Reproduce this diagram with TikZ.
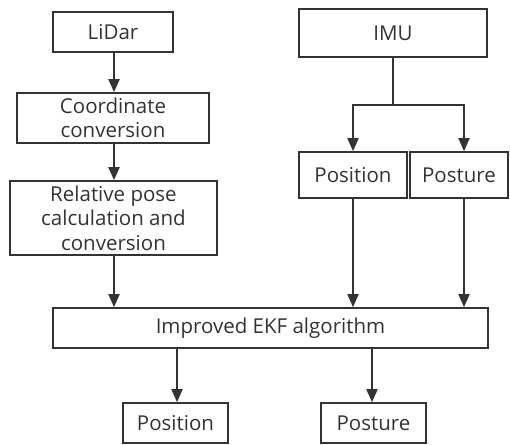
\documentclass[tikz,border=0pt]{standalone}
\usepackage{fontspec}
\setmainfont{Open Sans}
\usetikzlibrary{arrows.meta}
\definecolor{ink}{HTML}{333333}
\tikzset{
  box/.style={draw=ink, line width=1.6pt, inner sep=0pt, align=center, font=\fontsize{20.5}{24.5}\selectfont, text=ink},
  arr/.style={draw=ink, line width=1.8pt, -{Triangle[length=13pt,width=11pt]}}
}
\begin{document}
\begin{tikzpicture}[x=1pt,y=-1pt]
\useasboundingbox (0,0) rectangle (510,444);
\node[box, minimum width=120pt, minimum height=40pt] (lidar) at (113,32) {LiDar};
\node[box, minimum width=192pt, minimum height=50pt] (coord) at (113,118) {Coordinate\\conversion};
\node[box, minimum width=207pt, minimum height=74pt] (rel) at (113.5,218) {Relative pose\\calculation and\\conversion};
\node[box, minimum width=188pt, minimum height=48pt] (imu) at (393,33) {IMU};
\node[box, minimum width=108pt, minimum height=46pt] (pos1) at (353,175) {Position};
\node[box, minimum width=98pt, minimum height=46pt] (post1) at (459,175) {Posture};
\node[box, minimum width=435pt, minimum height=40pt] (ekf) at (270.5,328) {Improved EKF algorithm};
\node[box, minimum width=105pt, minimum height=40pt] (pos2) at (175.5,423) {Position};
\node[box, minimum width=105pt, minimum height=40pt] (post2) at (373.5,423) {Posture};
\coordinate (split) at (393,105);
\draw[arr] (lidar.south -| 114,0) -- (coord.north -| 114,0);
\draw[arr] (coord.south -| 114,0) -- (rel.north -| 114,0);
\draw[arr] (rel.south -| 114,0) -- (ekf.north -| 114,0);
\draw[draw=ink, line width=1.8pt] (imu.south) -- (split);
\draw[arr] (split) -| (pos1.north);
\draw[arr] (split) -| (post1.north -| 464,0);
\draw[arr] (pos1.south) -- (ekf.north -| pos1.south);
\draw[arr] (post1.south -| 464,0) -- (ekf.north -| 464,0);
\draw[arr] (ekf.south -| 177,0) -- (pos2.north -| 177,0);
\draw[arr] (ekf.south -| 372,0) -- (post2.north -| 372,0);
\end{tikzpicture}
\end{document}
